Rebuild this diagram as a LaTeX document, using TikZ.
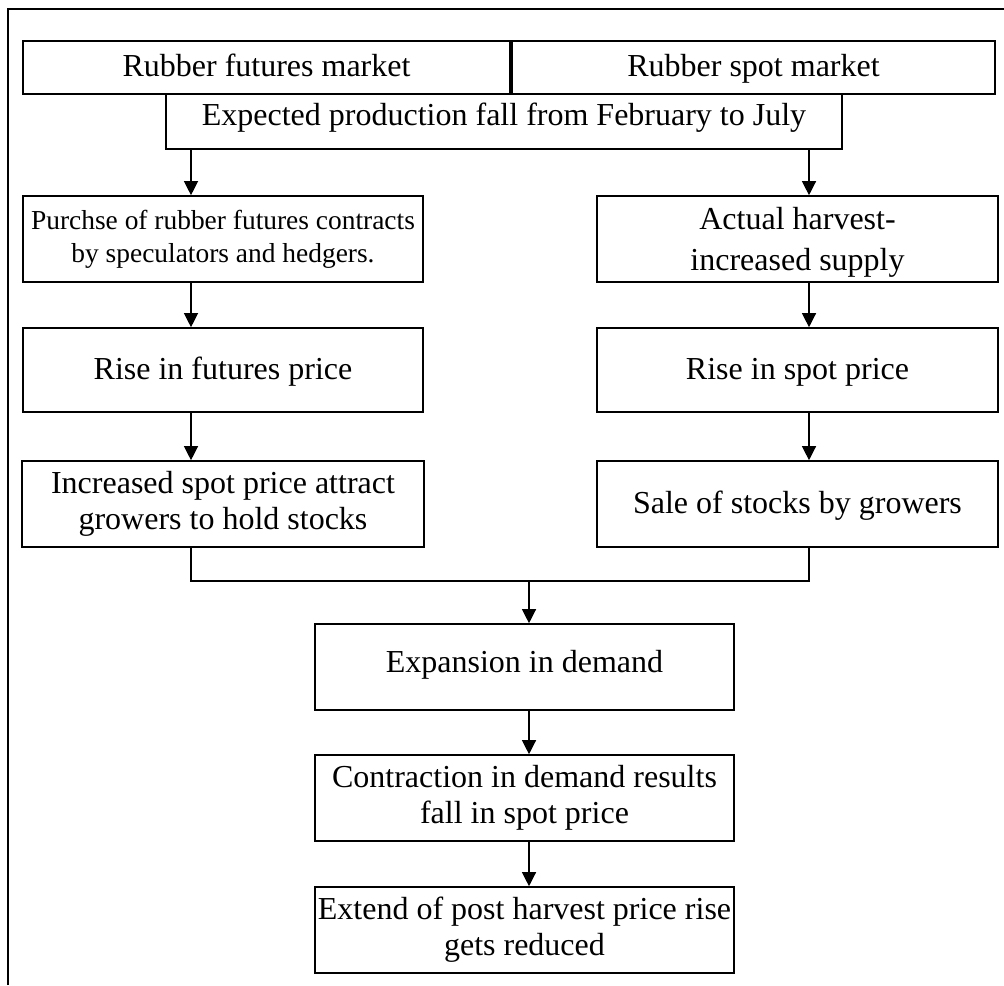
\documentclass[tikz,border=0pt]{standalone}
\usepackage{fontspec}
\setmainfont{Liberation Serif}
\usetikzlibrary{arrows.meta}

\begin{document}
\begin{tikzpicture}[x=0.01cm, y=-0.01cm,
  box/.style={draw, line width=0.45pt, fill=white, align=center, inner sep=0pt,
    font=\fontsize{9.1}{10.3}\selectfont},
  oneline/.style={text height=1.6ex, text depth=0.45ex},
  arr/.style={-{Triangle[length=0.14cm, width=0.14cm]}, line width=0.35pt}]
\def\lcol{191}
\def\rcol{809}
\def\mcol{529}
\def\joiny{581}

\coordinate (L) at (\lcol,0);
\coordinate (R) at (\rcol,0);
\coordinate (M) at (\mcol,0);

\useasboundingbox (0,0) rectangle (1004,985);
\draw[line width=0.6pt] (8,985) |- (1004,9);

% top row
\node[box, oneline, minimum width=4.87cm, minimum height=0.53cm] (futures) at (266.5,67.5) {Rubber futures market};
\node[box, oneline, minimum width=4.83cm, minimum height=0.53cm] (spot) at (753.5,67.5) {Rubber spot market};
\node[box, oneline, text depth=1.15ex, minimum width=6.76cm, minimum height=0.55cm] (expected) at (504,121.5) {Expected production fall from February to July};

% left column
\node[box, minimum width=4cm, minimum height=0.86cm, font=\fontsize{7.8}{9.4}\selectfont] (purchase) at (223,239) {Purchse of rubber futures contracts\\by speculators and hedgers.};
\node[box, oneline, minimum width=4cm, minimum height=0.84cm] (risefut) at (223,370) {Rise in futures price};
\node[box, minimum width=4.02cm, minimum height=0.86cm] (hold) at (223,504) {Increased spot price attract\\growers to hold stocks};

% right column
\node[box, minimum width=4.01cm, minimum height=0.86cm, font=\fontsize{9.1}{11.6}\selectfont] (harvest) at (797.5,239) {\strut Actual harvest-\\increased supply};
\node[box, oneline, minimum width=4.01cm, minimum height=0.84cm] (risespot) at (797.5,370) {Rise in spot price};
\node[box, oneline, minimum width=4.01cm, minimum height=0.86cm] (sale) at (797.5,504) {Sale of stocks by growers};

% middle column
\node[box, oneline, text depth=0.9ex, minimum width=4.19cm, minimum height=0.86cm] (expansion) at (524.5,667) {Expansion in demand};
\node[box, minimum width=4.19cm, minimum height=0.86cm] (contraction) at (524.5,798) {Contraction in demand results\\fall in spot price};
\node[box, minimum width=4.19cm, minimum height=0.86cm] (extend) at (524.5,930) {Extend of post harvest price rise\\gets reduced};

\draw[arr] (expected.south -| L) -- (purchase.north -| L);
\draw[arr] (purchase.south -| L) -- (risefut.north -| L);
\draw[arr] (risefut.south -| L) -- (hold.north -| L);

\draw[arr] (expected.south -| R) -- (harvest.north -| R);
\draw[arr] (harvest.south -| R) -- (risespot.north -| R);
\draw[arr] (risespot.south -| R) -- (sale.north -| R);

\coordinate (J) at (\mcol,\joiny);
\draw[line width=0.35pt] (hold.south -| L) |- (J) -| (sale.south -| R);
\draw[arr] (J) -- (expansion.north -| M);
\draw[arr] (expansion.south -| M) -- (contraction.north -| M);
\draw[arr] (contraction.south -| M) -- (extend.north -| M);
\end{tikzpicture}
\end{document}
